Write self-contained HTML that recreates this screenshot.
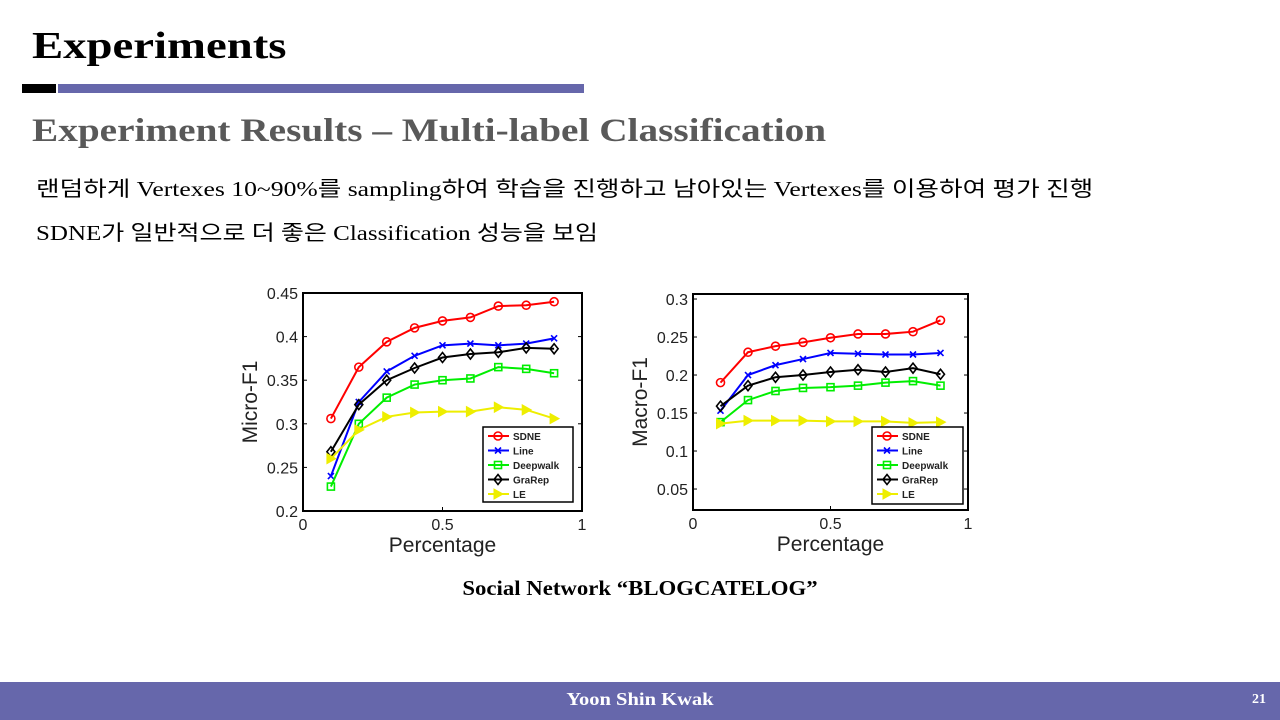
<!DOCTYPE html>
<html><head><meta charset="utf-8"><style>
body{margin:0;width:1280px;height:720px;position:relative;background:#fff;overflow:hidden;font-family:"Liberation Serif","Noto Serif CJK SC","Noto Sans CJK KR",serif}
.a{position:absolute;white-space:nowrap;transform-origin:left top}
</style></head><body>
<div class="a" style="left:32px;top:24px;font-size:38px;font-weight:bold;color:#000;transform:scaleX(1.23)">Experiments</div>
<div class="a" style="left:22px;top:84px;width:34px;height:9px;background:#000"></div>
<div class="a" style="left:58px;top:84px;width:526px;height:9px;background:#6667AB"></div>
<div class="a" style="left:32px;top:113px;font-size:33px;font-weight:bold;color:#595959;transform:scaleX(1.19)">Experiment Results – Multi-label Classification</div>
<div class="a" style="left:36px;top:173px;font-size:21px;color:#000;font-family:'Liberation Serif','Noto Sans CJK KR',serif;transform:scaleX(1.22)">랜덤하게 Vertexes 10~90%를 sampling하여 학습을 진행하고 남아있는 Vertexes를 이용하여 평가 진행</div>
<div class="a" style="left:36px;top:217px;font-size:21px;color:#000;font-family:'Liberation Serif','Noto Sans CJK KR',serif;transform:scaleX(1.19)">SDNE가 일반적으로 더 좋은 Classification 성능을 보임</div>
<svg id="chart" class="a" style="left:0;top:0" width="1280" height="720"></svg>
<div class="a" style="left:0;width:1280px;text-align:center;top:576px;font-size:21px;font-weight:bold;transform-origin:640px 0;transform:scaleX(1.085)">Social Network “BLOGCATELOG”</div>
<div class="a" style="left:0;top:682px;width:1280px;height:38px;background:#6667AB"></div>
<div class="a" style="left:0;width:1280px;text-align:center;top:689px;font-size:18px;font-weight:bold;color:#fff;transform-origin:640px 0;transform:scaleX(1.14)">Yoon Shin Kwak</div>
<div class="a" style="left:1252px;top:692px;font-size:14px;font-weight:bold;color:#fff">21</div>
<script>
const xs=[0.1,0.2,0.3,0.4,0.5,0.6,0.7,0.8,0.9];
const seriesNames=["SDNE","Line","Deepwalk","GraRep","LE"];
const microSDNE=[.306,.365,.394,.410,.418,.422,.435,.436,.440];
const microLine=[.240,.325,.360,.378,.390,.392,.390,.392,.398];
const microDeepwalk=[.228,.300,.330,.345,.350,.352,.365,.363,.358];
const microGraRep=[.268,.322,.350,.364,.376,.380,.382,.387,.386];
const microLE=[.260,.293,.308,.313,.314,.314,.319,.316,.306];
const macroSDNE=[.190,.230,.238,.243,.249,.254,.254,.257,.272];
const macroLine=[.153,.200,.213,.221,.229,.228,.227,.227,.229];
const macroDeepwalk=[.138,.167,.179,.183,.184,.186,.190,.192,.186];
const macroGraRep=[.159,.186,.197,.200,.204,.207,.204,.209,.201];
const macroLE=[.136,.140,.140,.140,.139,.139,.139,.137,.138];
const microTicks=["0.2","0.25","0.3","0.35","0.4","0.45"];
const macroTicks=["0.05","0.1","0.15","0.2","0.25","0.3"];
const xTicks=["0","0.5","1"];
const colors=["#f00","#00f","#0e0","#000","#ee0"];
const NS="http://www.w3.org/2000/svg";
const svg=document.getElementById('chart');
function mk(t,a,p){const e=document.createElementNS(NS,t);for(const k in a)e.setAttribute(k,a[k]);(p||svg).appendChild(e);return e;}
function marker(g,i,x,y){const c=colors[i];let e;
 if(i==0)e=mk('circle',{cx:x,cy:y,r:4,fill:'none',stroke:c,'stroke-width':1.6},g);
 else if(i==1)e=mk('path',{d:`M${x-3},${y-3}L${x+3},${y+3}M${x-3},${y+3}L${x+3},${y-3}`,stroke:c,'stroke-width':1.6},g);
 else if(i==2)e=mk('rect',{x:x-3.5,y:y-3.5,width:7,height:7,fill:'none',stroke:c,'stroke-width':1.6},g);
 else if(i==3)e=mk('path',{d:`M${x},${y-5}L${x+4},${y}L${x},${y+5}L${x-4},${y}Z`,fill:'none',stroke:c,'stroke-width':1.6},g);
 else e=mk('path',{d:`M${x-4},${y-5}L${x+5},${y}L${x-4},${y+5}Z`,fill:c,stroke:c},g);
 
 }
function chart(id,L,R,T,B,ymin,ymax,ticks,data,ylabel,leg){
 const g=mk('g',{});
 const sx=v=>L+v*(R-L), sy=v=>B-(v-ymin)/(ymax-ymin)*(B-T);
 mk('rect',{x:L,y:T,width:R-L,height:B-T,fill:'#fff',stroke:'#000','stroke-width':2},g);
 ticks.forEach(t=>{const y=sy(+t);mk('line',{x1:L,x2:L+4,y1:y,y2:y,stroke:'#000'},g);mk('line',{x1:R-4,x2:R,y1:y,y2:y,stroke:'#000'},g);
  const tx=mk('text',{x:L-5,y:y+6,'text-anchor':'end','font-size':16,'font-family':'Liberation Sans',fill:'#222'},g);tx.textContent=t;
  });
 xTicks.forEach(t=>{const x=sx(+t);mk('line',{x1:x,x2:x,y1:B,y2:B-4,stroke:'#000'},g);
  const tx=mk('text',{x:x,y:B+19,'text-anchor':'middle','font-size':16,'font-family':'Liberation Sans',fill:'#222'},g);tx.textContent=t;
  });
 const xl=mk('text',{x:(L+R)/2,y:B+41,'text-anchor':'middle','font-size':21,'font-family':'Liberation Sans',fill:'#222'},g);xl.textContent='Percentage';
 
 const yl=mk('text',{x:0,y:0,transform:`translate(${L-46},${(T+B)/2}) rotate(-90)`,'text-anchor':'middle','font-size':21,'font-family':'Liberation Sans',fill:'#222'},g);yl.textContent=ylabel;
 
 data.forEach((d,i)=>{const pts=d.map((v,j)=>sx(xs[j])+','+sy(v)).join(' ');
  const pl=mk('polyline',{points:pts,fill:'none',stroke:colors[i],'stroke-width':2},g);
  
  d.forEach((v,j)=>marker(g,i,sx(xs[j]),sy(v)));});
 const [lx,ly,lw,lh]=leg;
 const lg=mk('g',{},g);
 mk('rect',{x:lx,y:ly,width:lw,height:lh,fill:'#fff',stroke:'#000','stroke-width':1.5},lg);
 seriesNames.forEach((n,i)=>{const y=ly+9+i*14.5;mk('line',{x1:lx+5,x2:lx+26,y1:y,y2:y,stroke:colors[i],'stroke-width':2},lg);marker(lg,i,lx+15,y);
  const t=mk('text',{x:lx+30,y:y+4,'font-size':10,'font-weight':'bold','font-family':'Liberation Sans',fill:'#222'},lg);t.textContent=n;
  });
}
chart('micro-f1-chart',303,582,293,511,0.2,0.45,microTicks,[microSDNE,microLine,microDeepwalk,microGraRep,microLE],'Micro-F1',[483,427,90,75]);
chart('macro-f1-chart',693,968,294,510,0.0224,0.3066,macroTicks,[macroSDNE,macroLine,macroDeepwalk,macroGraRep,macroLE],'Macro-F1',[872,427,91,77]);
</script>
</body></html>
